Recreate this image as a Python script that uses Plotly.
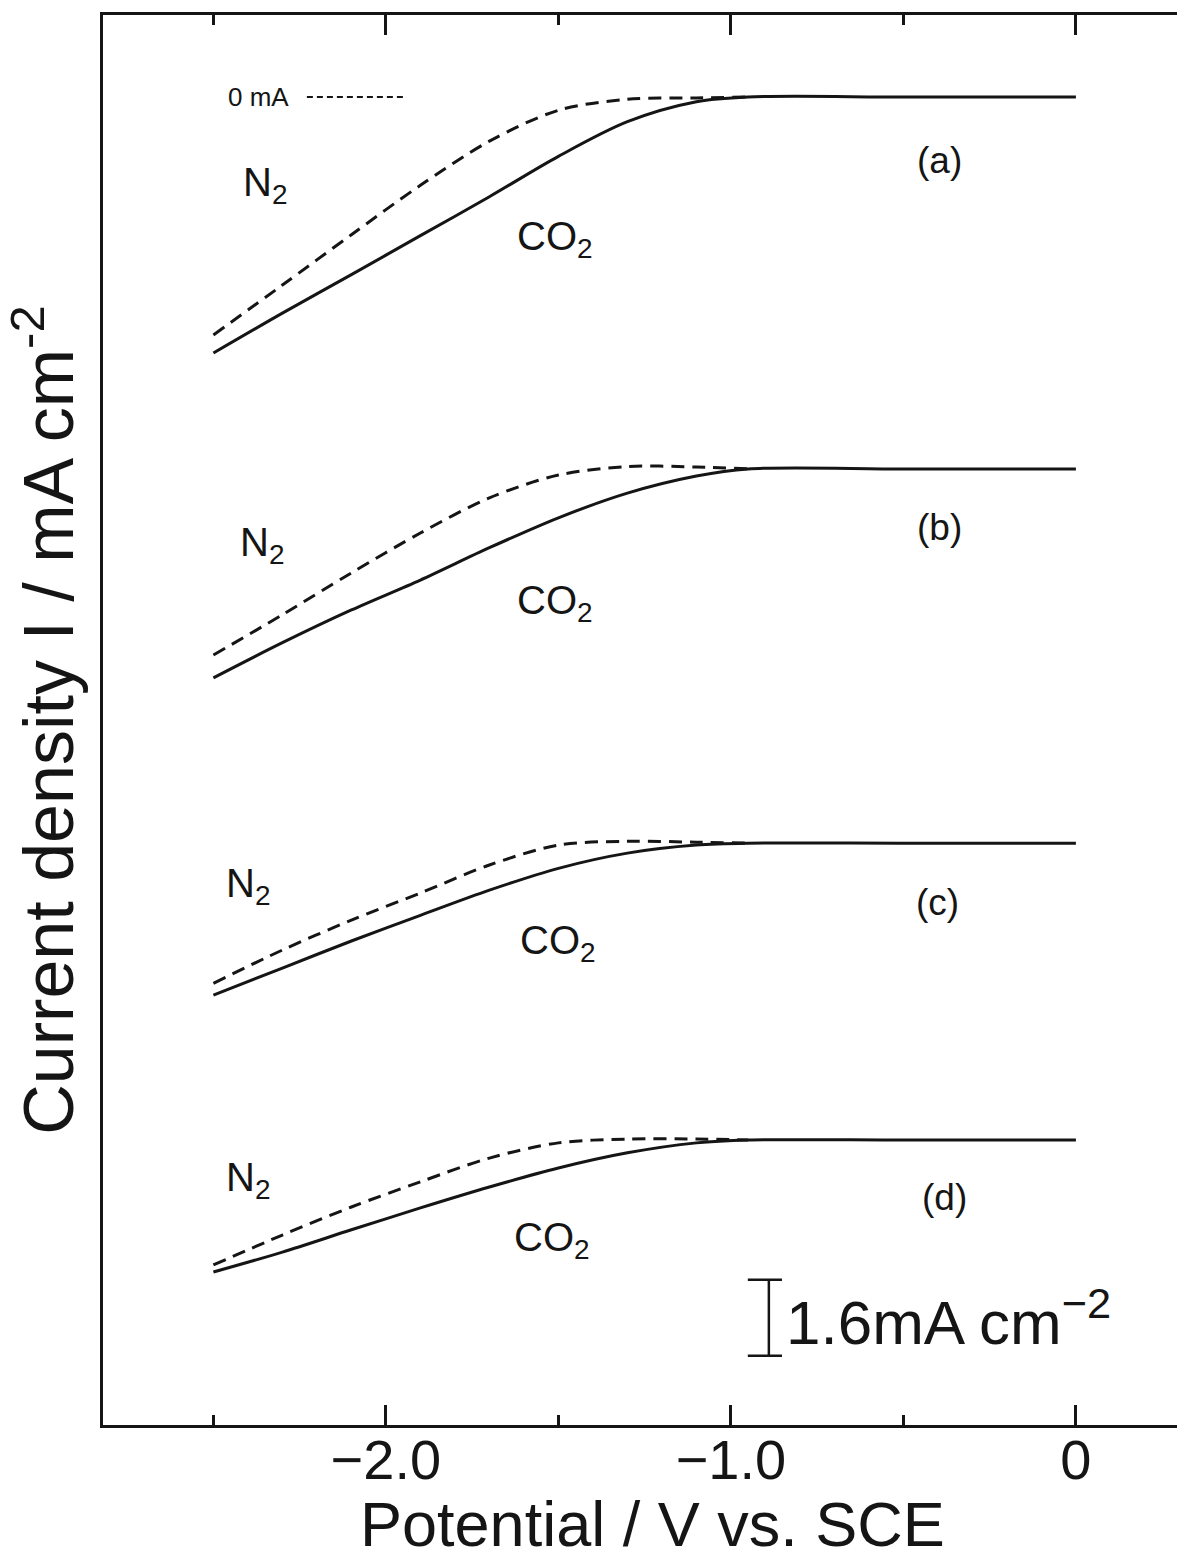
import plotly.graph_objects as go

# ---------------- data ----------------
# potential grid (V vs. SCE)
potential = [-2.5, -2.3, -2.1, -1.9, -1.7, -1.5, -1.3, -1.1, -0.95, -0.5, 0.0]
potential_n2 = [-2.5, -2.3, -2.1, -1.9, -1.7, -1.5, -1.3, -1.1, -0.95]

panels = ["(a)", "(b)", "(c)", "(d)"]

# CO2-saturated (solid) current density, mA cm^-2, relative to each panel's zero
co2_a = [-5.39, -4.55, -3.74, -2.92, -2.10, -1.25, -0.52, -0.10, 0.0, 0.0, 0.0]
co2_b = [-4.40, -3.66, -2.97, -2.34, -1.66, -1.03, -0.51, -0.15, 0.0, 0.0, 0.0]
co2_c = [-3.20, -2.63, -2.06, -1.52, -0.99, -0.53, -0.21, -0.04, 0.0, 0.0, 0.0]
co2_d = [-2.78, -2.36, -1.89, -1.43, -0.99, -0.59, -0.27, -0.06, 0.0, 0.0, 0.0]

# N2-saturated (dashed) current density, mA cm^-2
n2_a = [-5.01, -3.96, -2.90, -1.86, -0.93, -0.28, -0.05, -0.02, 0.0]
n2_b = [-3.92, -3.07, -2.19, -1.35, -0.61, -0.13, 0.05, 0.04, 0.0]
n2_c = [-2.95, -2.25, -1.62, -1.05, -0.46, -0.04, 0.04, 0.02, 0.0]
n2_d = [-2.63, -2.00, -1.41, -0.88, -0.38, -0.06, 0.02, 0.02, 0.0]

co2_series = [co2_a, co2_b, co2_c, co2_d]
n2_series = [n2_a, n2_b, n2_c, n2_d]

# vertical offsets used to stack the four panels (mA cm^-2)
panel_offsets = [0.0, -7.83, -15.71, -21.96]

# tick labels
x_tickvals = [-2.0, -1.0, 0.0]
x_ticktext = ["\u22122.0", "\u22121.0", "0"]
x_minor = [-2.5, -1.5, -0.5]

scale_bar_value = 1.6  # mA cm^-2

# ---------------- figure ----------------
INK = "#151515"
FONT = "Liberation Sans, Arial, Helvetica, sans-serif"

fig = go.Figure()

for name, co2, n2, off in zip(panels, co2_series, n2_series, panel_offsets):
    fig.add_trace(go.Scatter(
        x=potential_n2, y=[v + off for v in n2], mode="lines",
        line=dict(color=INK, width=3, dash="13px,8px", shape="spline", smoothing=0.9),
        name=f"N2 {name}", showlegend=False, hoverinfo="skip"))
    fig.add_trace(go.Scatter(
        x=potential, y=[v + off for v in co2], mode="lines",
        line=dict(color=INK, width=3, shape="spline", smoothing=0.9),
        name=f"CO2 {name}", showlegend=False, hoverinfo="skip"))

annotations = []
label_font = dict(family=FONT, size=40, color=INK)
n2_pos = [(-2.35, -1.85), (-2.36, -1.60), (-2.40, -0.90), (-2.40, -0.85)]
co2_pos = [(-1.51, -3.00), (-1.51, -2.83), (-1.50, -2.10), (-1.52, -2.10)]
panel_pos = [(-0.395, -1.33), (-0.395, -1.24), (-0.40, -1.24), (-0.38, -1.22)]
for name, off, (nx, ny), (cx, cy), (px, py) in zip(panels, panel_offsets, n2_pos, co2_pos, panel_pos):
    annotations.append(dict(x=nx, y=ny + off, text="N<sub>2</sub>", showarrow=False,
                            font=label_font, xanchor="center", yanchor="middle"))
    annotations.append(dict(x=cx, y=cy + off, text="CO<sub>2</sub>", showarrow=False,
                            font=label_font, xanchor="center", yanchor="middle"))
    annotations.append(dict(x=px, y=py + off, text=name, showarrow=False,
                            font=dict(family=FONT, size=37, color=INK),
                            xanchor="center", yanchor="middle"))

# "0 mA" reference marker
annotations.append(dict(x=-2.275, y=0.0, text="0 mA", showarrow=False,
                        font=dict(family=FONT, size=26, color=INK),
                        xanchor="right", yanchor="middle"))
shapes = [dict(type="line", x0=-2.229, x1=-1.945, y0=0.0, y1=0.0,
               line=dict(color=INK, width=2, dash="6px,4px"))]

# scale bar (1.6 mA cm^-2)
bar_x = -0.89
bar_top = -24.90
bar_bot = bar_top - scale_bar_value
shapes += [
    dict(type="line", x0=bar_x, x1=bar_x, y0=bar_bot, y1=bar_top, line=dict(color=INK, width=2.5)),
    dict(type="line", x0=-0.951, x1=-0.852, y0=bar_top, y1=bar_top, line=dict(color=INK, width=2.5)),
    dict(type="line", x0=-0.951, x1=-0.852, y0=bar_bot, y1=bar_bot, line=dict(color=INK, width=2.5)),
]
annotations.append(dict(x=-0.845, y=(bar_top + bar_bot) / 2, text="1.6mA cm<sup>\u22122</sup>",
                        showarrow=False, font=dict(family=FONT, size=62, color=INK),
                        xanchor="left", yanchor="middle"))

# x-axis title
annotations.append(dict(x=-1.226, xref="x", y=0, yref="paper", yanchor="bottom", yshift=-136,
                        text="Potential / V vs. SCE", showarrow=False,
                        font=dict(family=FONT, size=63, color=INK)))

fig.update_layout(
    width=1177, height=1561,
    margin=dict(l=103, r=0, t=15, b=136),
    paper_bgcolor="white", plot_bgcolor="white",
    font=dict(family=FONT, color=INK),
    showlegend=False,
    annotations=annotations, shapes=shapes,
)

fig.update_xaxes(
    range=[-2.82, 0.293],
    showgrid=False, zeroline=False,
    showline=True, linecolor=INK, linewidth=2.5, mirror="allticks",
    ticks="inside", ticklen=20, tickwidth=2.5, tickcolor=INK,
    tickmode="array", tickvals=x_tickvals, ticktext=x_ticktext,
    tickfont=dict(family=FONT, size=56, color=INK), ticklabelstandoff=-16,
    minor=dict(tickmode="array", tickvals=x_minor, ticks="inside", ticklen=10,
               tickwidth=2.5, tickcolor=INK, showgrid=False),
)
fig.update_yaxes(
    range=[-27.96, 1.726],
    showgrid=False, zeroline=False,
    showline=True, linecolor=INK, linewidth=2.5, mirror=False,
    ticks="", showticklabels=False,
    title=dict(text="Current density I / mA cm<sup>-2</sup>",
               font=dict(family=FONT, size=70, color=INK), standoff=10),
)

fig.write_html("out.html")
